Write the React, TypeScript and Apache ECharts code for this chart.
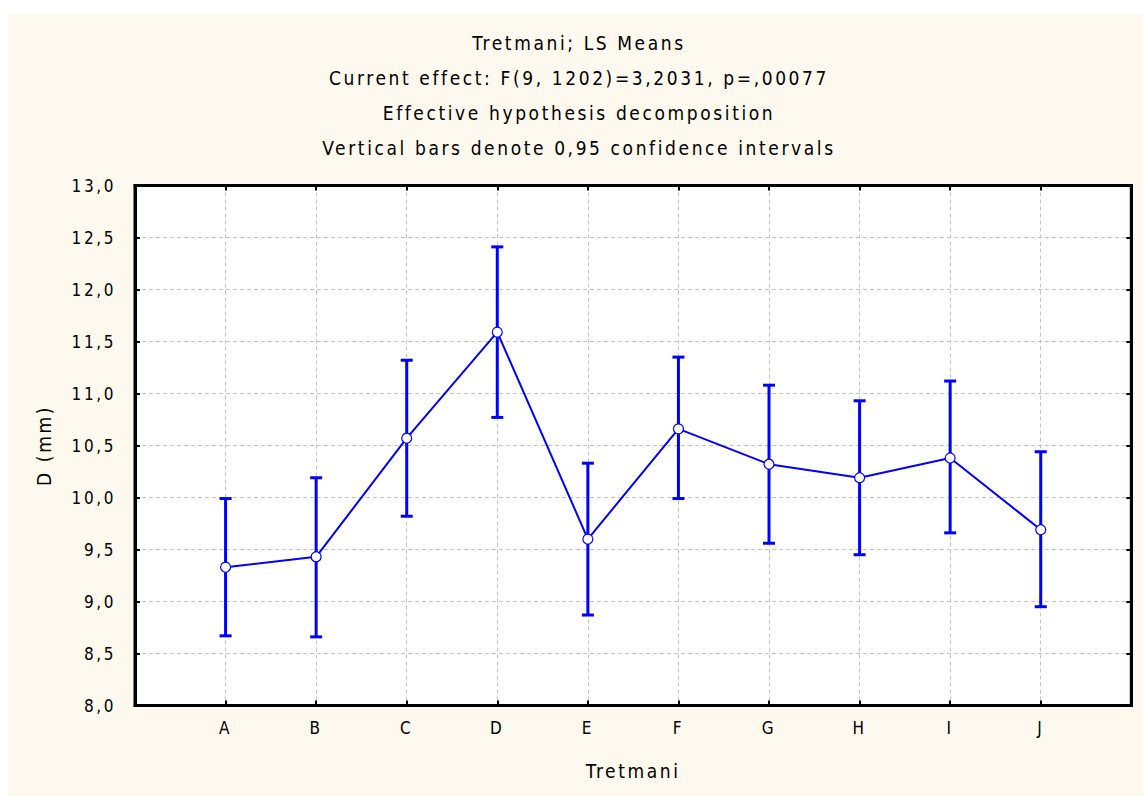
import React, { useEffect, useRef } from "react";
import * as echarts from "echarts";

// Treatment groups and their least-squares means with 95% confidence limits
const categories = ["A", "B", "C", "D", "E", "F", "G", "H", "I", "J"];
const means = [9.33, 9.43, 10.57, 11.59, 9.6, 10.66, 10.32, 10.19, 10.38, 9.69];
const upper = [9.99, 10.19, 11.32, 12.41, 10.33, 11.35, 11.08, 10.93, 11.12, 10.44];
const lower = [8.67, 8.66, 9.82, 10.77, 8.87, 9.99, 9.56, 9.45, 9.66, 8.95];

const titleLines = [
  "Tretmani; LS Means",
  "Current effect: F(9, 1202)=3,2031, p=,00077",
  "Effective hypothesis decomposition",
  "Vertical bars denote 0,95 confidence intervals",
];

const xName = "Tretmani";
const yName = "D (mm)";
const yMin = 8;
const yMax = 13;
const yStep = 0.5;

const FONT = '"Liberation Sans Narrow", "DejaVu Sans Condensed", "Arial Narrow", sans-serif';
const BLUE = "#0000ff";

// padded category list so the groups sit one step in from each border
const xCats = ["", ...categories, ""];

function buildOption(): echarts.EChartsOption {
  const commas = (v: number) => v.toFixed(1).replace(".", ",");
  const gridLine = { show: true, lineStyle: { color: "#c4c4c4", width: 1, type: [4, 3] as number[] } };
  const tick = { show: true, inside: true, length: 5, lineStyle: { color: "#000", width: 2 } };
  const border = { show: true, lineStyle: { color: "#000", width: 3 } };

  return {
    animation: false,
    backgroundColor: "#fef9ee",
    textStyle: { fontFamily: FONT },
    graphic: titleLines.map((t, i) => ({
      type: "text",
      x: 571,
      y: 29 + i * 35,
      style: {
        text: t,
        fill: "#000",
        font: `19px ${FONT}`,
        textAlign: "center",
        textVerticalAlign: "middle",
      },
    })),
    grid: {
      left: 127,
      top: 171.5,
      right: 11.7,
      bottom: 90.5,
      show: true,
      backgroundColor: "#ffffff",
      borderColor: "#000",
      borderWidth: 3,
    },
    xAxis: [
      {
        type: "category",
        data: xCats,
        boundaryGap: false,
        position: "bottom",
        name: xName,
        nameLocation: "middle",
        nameGap: 56,
        nameTextStyle: { fontSize: 19, color: "#000", fontFamily: FONT },
        axisLine: border,
        axisTick: { ...tick, interval: 0 },
        axisLabel: { interval: 0, margin: 14, fontSize: 17, color: "#000", fontFamily: FONT },
        splitLine: { ...gridLine, interval: 0, showMinLine: false, showMaxLine: false },
      },
      {
        type: "category",
        data: xCats,
        boundaryGap: false,
        position: "top",
        axisLine: border,
        axisTick: { ...tick, interval: 0 },
        axisLabel: { show: false },
        splitLine: { show: false },
      },
    ],
    yAxis: [
      {
        type: "value",
        min: yMin,
        max: yMax,
        interval: yStep,
        position: "left",
        name: yName,
        nameLocation: "middle",
        nameGap: 82,
        nameTextStyle: { fontSize: 19, color: "#000", fontFamily: FONT },
        axisLine: border,
        axisTick: tick,
        axisLabel: { margin: 19, fontSize: 17, color: "#000", fontFamily: FONT, formatter: commas },
        splitLine: { ...gridLine, showMinLine: false, showMaxLine: false },
      },
      {
        type: "value",
        min: yMin,
        max: yMax,
        interval: yStep,
        position: "right",
        axisLine: border,
        axisTick: tick,
        axisLabel: { show: false },
        splitLine: { show: false },
      },
    ],
    series: [
      {
        type: "custom",
        name: "ci",
        xAxisIndex: 0,
        yAxisIndex: 0,
        encode: { x: 0, y: [1, 2] },
        data: categories.map((c, i) => [c, lower[i], upper[i]]),
        z: 2,
        renderItem: (params: any, api: any) => {
          const x = api.value(0);
          const lo = api.coord([x, api.value(1)]);
          const hi = api.coord([x, api.value(2)]);
          const hw = 6;
          const style = { stroke: BLUE, lineWidth: 3, fill: "none" };
          return {
            type: "group",
            children: [
              { type: "line", shape: { x1: lo[0], y1: lo[1], x2: hi[0], y2: hi[1] }, style },
              { type: "line", shape: { x1: hi[0] - hw, y1: hi[1], x2: hi[0] + hw, y2: hi[1] }, style },
              { type: "line", shape: { x1: lo[0] - hw, y1: lo[1], x2: lo[0] + hw, y2: lo[1] }, style },
            ],
          };
        },
      },
      {
        type: "line",
        name: "mean",
        xAxisIndex: 0,
        yAxisIndex: 0,
        data: categories.map((c, i) => [c, means[i]]),
        symbol: "circle",
        symbolSize: 10,
        z: 3,
        lineStyle: { color: BLUE, width: 2 },
        itemStyle: { color: "#ffffff", borderColor: BLUE, borderWidth: 1.2 },
      },
    ],
  } as echarts.EChartsOption;
}

export default function App() {
  const ref = useRef<HTMLDivElement>(null);
  useEffect(() => {
    if (!ref.current) return;
    const chart = echarts.init(ref.current, null, { renderer: "svg" });
    chart.setOption(buildOption());
    return () => chart.dispose();
  }, []);
  return (
    <div
      ref={ref}
      style={{
        position: "absolute",
        left: 8,
        top: 14,
        width: 1135,
        height: 782,
        letterSpacing: "2.6px",
      }}
    />
  );
}
